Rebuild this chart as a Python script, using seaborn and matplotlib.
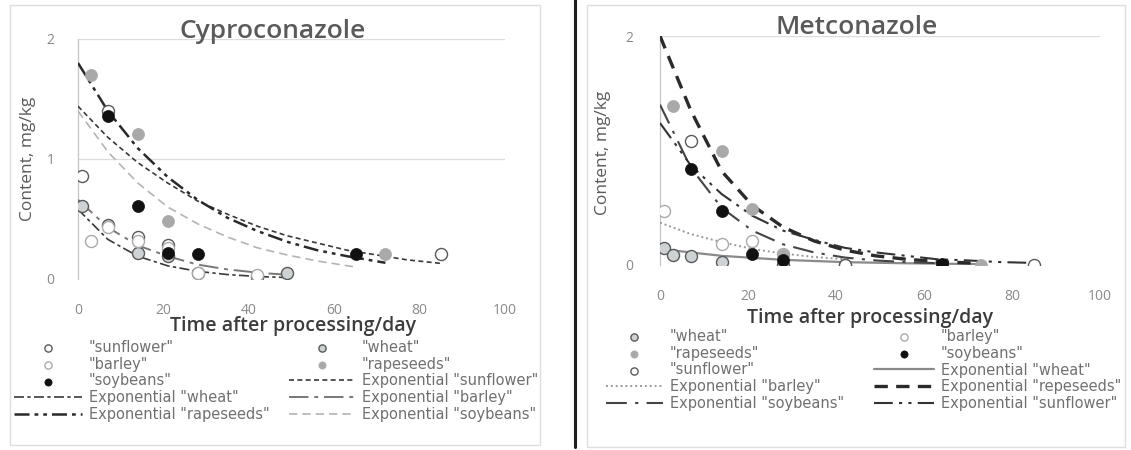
import matplotlib
matplotlib.use("Agg")
import matplotlib.pyplot as plt
import seaborn as sns
from matplotlib.patches import Rectangle
from matplotlib.lines import Line2D

# ---------------- Cyproconazole: measured residues (mg/kg) ----------------
cy_sunflower_day = [1, 7, 14, 21, 85]
cy_sunflower_val = [0.86, 1.40, 0.35, 0.28, 0.21]
cy_wheat_day = [1, 7, 14, 21, 28, 42, 49]
cy_wheat_val = [0.61, 0.45, 0.22, 0.19, 0.05, 0.02, 0.05]
cy_barley_day = [3, 7, 14, 21, 28, 42]
cy_barley_val = [0.32, 0.43, 0.32, 0.26, 0.05, 0.03]
cy_rapeseeds_day = [3, 14, 21, 72]
cy_rapeseeds_val = [1.70, 1.21, 0.48, 0.21]
cy_soybeans_day = [7, 14, 21, 28, 65]
cy_soybeans_val = [1.36, 0.61, 0.22, 0.21, 0.21]

# Cyproconazole exponential trend lines
cy_tr_sunflower_day = [0, 7, 14, 21, 28, 35, 42, 49, 56, 63, 70, 77, 85]
cy_tr_sunflower_val = [1.44, 1.18, 0.97, 0.80, 0.65, 0.54, 0.44, 0.36, 0.30, 0.24, 0.20, 0.16, 0.13]
cy_tr_wheat_day = [0, 7, 14, 21, 28, 35, 42, 49]
cy_tr_wheat_val = [0.58, 0.33, 0.19, 0.11, 0.064, 0.037, 0.021, 0.012]
cy_tr_barley_day = [0, 7, 14, 21, 28, 35, 42, 49]
cy_tr_barley_val = [0.66, 0.43, 0.28, 0.19, 0.12, 0.08, 0.053, 0.035]
cy_tr_rapeseeds_day = [0, 7, 14, 21, 28, 35, 42, 49, 56, 63, 72]
cy_tr_rapeseeds_val = [1.80, 1.40, 1.09, 0.85, 0.66, 0.51, 0.40, 0.31, 0.24, 0.19, 0.135]
cy_tr_soybeans_day = [0, 7, 14, 21, 28, 35, 42, 49, 56, 65]
cy_tr_soybeans_val = [1.40, 1.06, 0.80, 0.60, 0.46, 0.35, 0.26, 0.20, 0.15, 0.10]

# ---------------- Metconazole: measured residues (mg/kg) ----------------
me_wheat_day = [1, 3, 7, 14, 28, 42]
me_wheat_val = [0.15, 0.09, 0.08, 0.03, 0.0, 0.0]
me_barley_day = [1, 14, 21, 28]
me_barley_val = [0.47, 0.18, 0.21, 0.10]
me_rapeseeds_day = [3, 14, 21, 28, 73]
me_rapeseeds_val = [1.39, 1.00, 0.49, 0.09, 0.0]
me_soybeans_day = [7, 14, 21, 28, 64]
me_soybeans_val = [0.84, 0.47, 0.10, 0.04, 0.01]
me_sunflower_day = [7, 42, 85]
me_sunflower_val = [1.08, 0.0, 0.0]

# Metconazole exponential trend lines
me_tr_wheat_day = [0, 14, 28, 42, 56, 72]
me_tr_wheat_val = [0.14, 0.08, 0.045, 0.025, 0.015, 0.008]
me_tr_barley_day = [0, 7, 14, 21, 28, 35, 42]
me_tr_barley_val = [0.37, 0.27, 0.20, 0.14, 0.10, 0.07, 0.05]
me_tr_rapeseeds_day = [0, 7, 14, 21, 28, 35, 42, 49, 56, 63, 72]
me_tr_rapeseeds_val = [2.0, 1.35, 0.82, 0.52, 0.33, 0.21, 0.13, 0.08, 0.05, 0.03, 0.015]
me_tr_soybeans_day = [0, 7, 14, 21, 28, 35, 42, 49, 56, 64]
me_tr_soybeans_val = [1.40, 0.85, 0.50, 0.30, 0.18, 0.11, 0.065, 0.04, 0.025, 0.015]
me_tr_sunflower_day = [0, 7, 14, 21, 28, 35, 42, 49, 56, 63, 70, 77, 85]
me_tr_sunflower_val = [1.24, 0.87, 0.62, 0.43, 0.30, 0.22, 0.15, 0.11, 0.08, 0.05, 0.04, 0.026, 0.018]

x_ticks = [0, 20, 40, 60, 80, 100]

W, H = 1131, 450

# marker looks
MK = {
    "sunflower": dict(color="white", edgecolor="#5a5a5a", linewidth=1.0),
    "wheat": dict(color="#cdd3d5", edgecolor="#5a5a5a", linewidth=1.0),
    "barley": dict(color="white", edgecolor="#aaaaaa", linewidth=1.0),
    "rapeseeds": dict(color="#a9a9a9", edgecolor="#a9a9a9", linewidth=0.5),
    "soybeans": dict(color="#111111", edgecolor="#111111", linewidth=0.5),
}

sns.set_style("white")
plt.rcParams["font.family"] = ["Open Sans", "DejaVu Sans"]

fig = plt.figure(figsize=(W / 100, H / 100), dpi=100)


def px_axes(x0, x1, y_top, y_bot):
    return fig.add_axes([x0 / W, 1 - y_bot / H, (x1 - x0) / W, (y_bot - y_top) / H])


def style_axes(ax, yticks, ypad):
    ax.set_xlim(0, 100)
    ax.set_ylim(0, 2)
    ax.set_xticks(x_ticks)
    ax.set_yticks(yticks)
    for y in yticks:
        if y > 0:
            ax.axhline(y, color="#dcdcdc", lw=0.9, zorder=0)
    for s in ["top", "right", "bottom"]:
        ax.spines[s].set_visible(False)
    ax.spines["left"].set_color("#c4c4c4")
    ax.spines["left"].set_linewidth(0.9)
    ax.tick_params(axis="x", length=0, pad=17, labelsize=10, labelcolor="#8a8a8a")
    ax.tick_params(axis="y", length=0, pad=ypad, labelsize=10, labelcolor="#8a8a8a")
    ax.set_xlabel("")
    ax.set_ylabel("")
    ax.patch.set_alpha(0)


def add_points(ax, days, vals, name):
    sns.scatterplot(x=days, y=vals, ax=ax, s=75, label=f'"{name}"', zorder=4, **MK[name])


def add_trend(ax, days, vals, label, color, lw, ls):
    sns.lineplot(x=days, y=vals, ax=ax, color=color, linewidth=lw, linestyle=ls,
                 label=label, zorder=3)


def split_legend(ax, order, x1, x2, y, hl1, hl2):
    h, l = ax.get_legend_handles_labels()
    lut = dict(zip(l, h))
    if ax.get_legend() is not None:
        ax.get_legend().remove()
    hs = [lut[k] for k in order]
    common = dict(loc="upper left", frameon=False, borderpad=0,
                  borderaxespad=0, labelspacing=0.12, handletextpad=0.48,
                  markerscale=0.6, labelcolor="#707070",
                  prop=dict(family="DejaVu Sans", size=10.5))
    fig.legend(hs[0::2], order[0::2], bbox_to_anchor=(x1 / W, 1 - y / H),
               handlelength=hl1, **common)
    fig.legend(hs[1::2], order[1::2], bbox_to_anchor=(x2 / W, 1 - y / H),
               handlelength=hl2, **common)


# ---------------- left panel ----------------
ax1 = px_axes(78, 505, 39, 279)
add_points(ax1, cy_sunflower_day, cy_sunflower_val, "sunflower")
add_points(ax1, cy_wheat_day, cy_wheat_val, "wheat")
add_points(ax1, cy_barley_day, cy_barley_val, "barley")
add_points(ax1, cy_rapeseeds_day, cy_rapeseeds_val, "rapeseeds")
add_points(ax1, cy_soybeans_day, cy_soybeans_val, "soybeans")
add_trend(ax1, cy_tr_sunflower_day, cy_tr_sunflower_val, 'Exponential "sunflower"',
          "#3a3a3a", 1.2, (0, (3, 2)))
add_trend(ax1, cy_tr_wheat_day, cy_tr_wheat_val, 'Exponential "wheat"',
          "#3a3a3a", 1.2, (0, (6, 2, 2, 2)))
add_trend(ax1, cy_tr_barley_day, cy_tr_barley_val, 'Exponential "barley"',
          "#777777", 1.4, (0, (10, 3, 2, 3)))
add_trend(ax1, cy_tr_rapeseeds_day, cy_tr_rapeseeds_val, 'Exponential "rapeseeds"',
          "#2a2a2a", 1.8, (0, (6, 2, 1.5, 2, 1.5, 2)))
add_trend(ax1, cy_tr_soybeans_day, cy_tr_soybeans_val, 'Exponential "soybeans"',
          "#b4b4b4", 1.2, (0, (5, 3)))
style_axes(ax1, [0, 1, 2], 17)
split_legend(ax1, ['"sunflower"', '"wheat"', '"barley"', '"rapeseeds"', '"soybeans"',
                   'Exponential "sunflower"', 'Exponential "wheat"', 'Exponential "barley"',
                   'Exponential "rapeseeds"', 'Exponential "soybeans"'],
             14, 289, 340, 4.65, 4.5)

# ---------------- right panel ----------------
ax2 = px_axes(660, 1100, 36, 265)
add_points(ax2, me_wheat_day, me_wheat_val, "wheat")
add_points(ax2, me_barley_day, me_barley_val, "barley")
add_points(ax2, me_rapeseeds_day, me_rapeseeds_val, "rapeseeds")
add_points(ax2, me_soybeans_day, me_soybeans_val, "soybeans")
add_points(ax2, me_sunflower_day, me_sunflower_val, "sunflower")
add_trend(ax2, me_tr_wheat_day, me_tr_wheat_val, 'Exponential "wheat"',
          "#8a8a8a", 1.6, "-")
add_trend(ax2, me_tr_barley_day, me_tr_barley_val, 'Exponential "barley"',
          "#9a9a9a", 1.4, (0, (1, 1.5)))
add_trend(ax2, me_tr_rapeseeds_day, me_tr_rapeseeds_val, 'Exponential "repeseeds"',
          "#2a2a2a", 2.4, (0, (4, 2.5)))
add_trend(ax2, me_tr_soybeans_day, me_tr_soybeans_val, 'Exponential "soybeans"',
          "#444444", 1.5, (0, (10, 4, 1.5, 4)))
add_trend(ax2, me_tr_sunflower_day, me_tr_sunflower_val, 'Exponential "sunflower"',
          "#333333", 1.5, (0, (9, 3, 1.5, 3, 1.5, 3)))
style_axes(ax2, [0, 2], 19)
ax2.spines["left"].set_linestyle((0, (1, 1)))
split_legend(ax2, ['"wheat"', '"barley"', '"rapeseeds"', '"soybeans"', '"sunflower"',
                   'Exponential "wheat"', 'Exponential "barley"', 'Exponential "repeseeds"',
                   'Exponential "soybeans"', 'Exponential "sunflower"'],
             606, 874, 329, 3.9, 4.1)

# titles and axis labels
fig.text(273 / W, 1 - 31 / H, "Cyproconazole", ha="center", va="center",
         fontsize=19, fontweight="semibold", color="#5a5a5a")
fig.text(857 / W, 1 - 28 / H, "Metconazole", ha="center", va="center",
         fontsize=19, fontweight="semibold", color="#5a5a5a")
for xc, yc in [(293, 326), (870, 318)]:
    fig.text(xc / W, 1 - yc / H, "Time after processing/day", ha="center", va="center",
             fontsize=14, fontweight="semibold", color="#3c3c3c")
for xc, yc in [(28, 159), (603, 153)]:
    fig.text(xc / W, 1 - yc / H, "Content, mg/kg", ha="center", va="center",
             rotation=90, fontsize=12.5, color="#5a5a5a")

# panel frames and the black divider
fig.add_artist(Rectangle((10 / W, 1 - 445 / H), 530 / W, 440 / H, transform=fig.transFigure,
                         fill=False, edgecolor="#dedede", lw=1))
fig.add_artist(Rectangle((587 / W, 1 - 447 / H), 538 / W, 442 / H, transform=fig.transFigure,
                         fill=False, edgecolor="#dedede", lw=1))
fig.add_artist(Line2D([575 / W, 575 / W], [1 - 447 / H, 1.0], transform=fig.transFigure,
                      color="#1e1e1e", lw=2.2))

fig.savefig("out.png", dpi=100)
